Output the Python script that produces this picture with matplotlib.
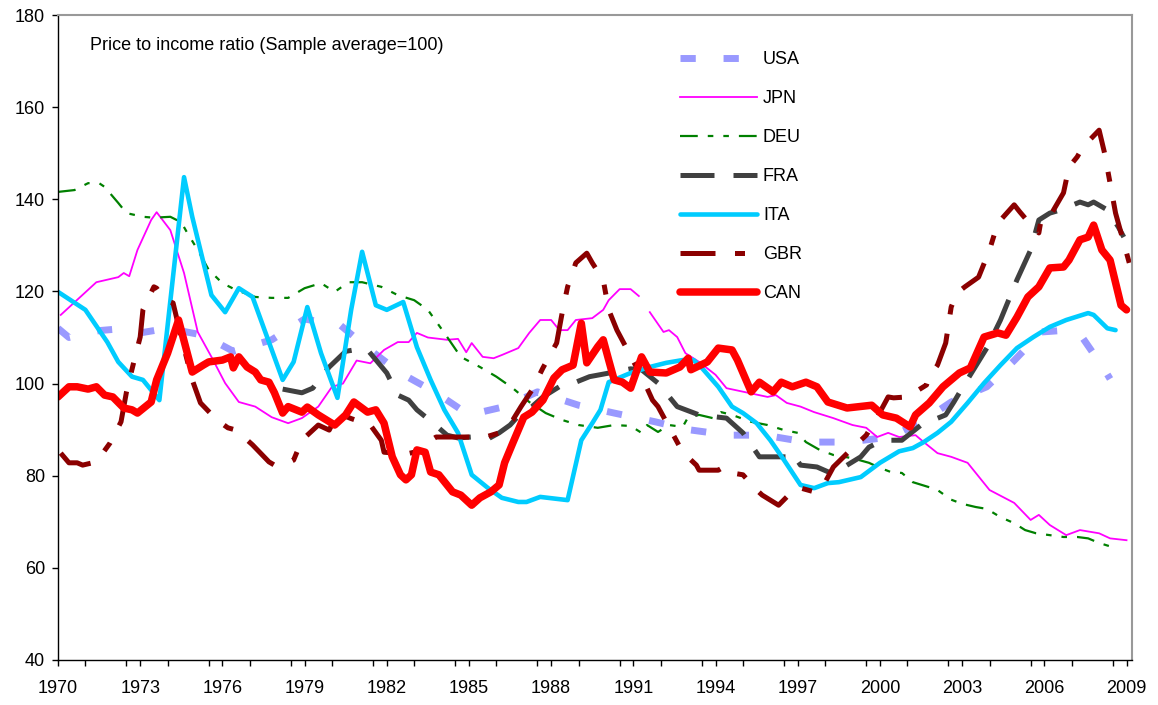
import numpy as np
import matplotlib
matplotlib.use("Agg")
import matplotlib.pyplot as plt
from matplotlib.ticker import MultipleLocator

plt.rcParams['font.family'] = ['Liberation Sans', 'DejaVu Sans']

# price to income ratio, sample average = 100
usa_x = [1970.0, 1970.4, 1971.5, 1972.5, 1973.0, 1974.0, 1975.3, 1976.4, 1977.8, 1979.0,
         1980.3, 1981.3, 1982.5, 1983.8, 1985.0, 1986.3, 1987.5, 1989.0, 1990.3, 1991.8,
         1993.0, 1994.5, 1995.8, 1997.3, 1998.8, 2000.4, 2001.6, 2002.6, 2003.9, 2004.9,
         2005.9, 2006.6, 2007.4, 2008.2, 2008.4]
usa_y = [112, 110, 111.5, 112, 111, 112, 110.5, 107, 109.5, 114,
         112.7, 107.7, 102.3, 98, 93.2, 95, 98.2, 95.3, 93.6, 91.7,
         90, 88.8, 88.8, 87.3, 87.3, 88.4, 92, 96, 99.3, 105,
         111.2, 111.5, 109.9, 103, 101]

jpn_x = [1970.1, 1971.4, 1972.2, 1972.4, 1972.6, 1972.9, 1973.4, 1973.6, 1974.1, 1974.6,
         1975.1, 1975.6, 1976.1, 1976.6, 1977.2, 1977.8, 1978.4, 1978.9, 1979.5, 1980.0,
         1980.4, 1980.9, 1981.4, 1981.9, 1982.4, 1982.8, 1983.1, 1983.5, 1984.2, 1984.6,
         1984.9, 1985.1, 1985.5, 1985.9, 1986.2, 1986.8, 1987.2, 1987.6, 1988.0, 1988.3,
         1988.6, 1988.9, 1989.5, 1989.9, 1990.1, 1990.5, 1990.9, 1991.2, 1991.35, 1991.6,
         1992.1, 1992.3, 1992.6, 1992.9, 1993.4, 1994.0, 1994.4, 1995.9, 1996.2, 1996.6,
         1997.1, 1997.6, 1998.3, 1999.0, 1999.5, 1999.9, 2000.3, 2000.7, 2001.3, 2001.6,
         2002.1, 2002.6, 2003.2, 2004.0, 2004.9, 2005.5, 2005.8, 2006.2, 2006.8, 2007.3,
         2008.0, 2008.4, 2009.0]
jpn_y = [114.9, 122, 123.1, 124, 123.3, 129, 135.5, 137.2, 133.3, 124,
         111.2, 105.8, 100.1, 96, 95, 92.7, 91.4, 92.5, 95, 99.3,
         100, 105, 104.4, 107.3, 109, 109, 111, 110, 109.5, 109.7,
         106.8, 108.8, 105.8, 105.5, 106.2, 107.7, 111, 113.8, 113.8, 111.6,
         111.6, 113.8, 114.2, 116, 118.1, 120.5, 120.5, 119, np.nan, 115.5,
         111.2, 111.6, 110.1, 106.6, 104.7, 101.9, 99, 97.1, 97.5, 95.8,
         95, 93.8, 92.5, 91, 90.4, 88.4, 89.3, 88.4, 88.8, 87.3,
         84.9, 84.1, 82.8, 76.9, 74.1, 70.4, 71.5, 69.3, 67.1, 68.2,
         67.5, 66.4, 66]

deu_x = [1970.0, 1970.6, 1971.1, 1971.5, 1971.7, 1972.2, 1972.5, 1973.1, 1973.5, 1974.1,
         1974.5, 1974.7, 1975.1, 1975.5, 1976.0, 1976.5, 1977.2, 1977.8, 1978.4, 1979.0,
         1979.6, 1980.1, 1980.6, 1981.1, 1981.8, 1982.4, 1983.0, 1983.5, 1984.1, 1984.7,
         1985.4, 1986.0, 1986.6, 1987.2, 1987.8, 1988.4, 1989.0, 1989.7, 1990.3, 1990.9,
         1991.3, 1991.5, 1991.9, 1992.3, 1992.8, 1993.0, 1993.4, 1993.9, 1994.2, 1994.6,
         1995.3, 1995.9, 1996.5, 1997.0, 1997.3, 1997.8, 1998.3, 1999.0, 1999.6, 2000.0,
         2000.4, 2000.8, 2001.2, 2001.8, 2002.1, 2002.6, 2003.0, 2003.5, 2003.9, 2004.4,
         2004.9, 2005.3, 2005.7, 2006.2, 2006.7, 2007.2, 2007.6, 2008.0, 2008.6]
deu_y = [141.6, 142, 143.5, 143.5, 142.7, 139.2, 137, 136.2, 136, 136.2,
         135, 132.9, 129, 124.7, 121.8, 120.3, 118.8, 118.6, 118.6, 120.7,
         121.8, 119.9, 122, 122, 121, 119.2, 118.1, 116, 111, 105.8,
         103.6, 101.5, 99, 96, 93.6, 92.1, 91, 90.4, 91, 90.8,
         89.3, 91, 89.5, 91, 90.6, 92.7, 93.2, 92.5, 93.8, 93.2,
         91.7, 91, 89.9, 89.3, 87.3, 85.6, 84.5, 83.8, 82.8, 81.7,
         80.8, 80.6, 78.6, 77.5, 76.9, 74.8, 73.9, 73.2, 72.8, 71,
         69.7, 68.2, 67.5, 67.1, 66.7, 66.7, 66.4, 65.4, 64.3]

fra_x = [1978.2, 1978.9, 1979.3, 1979.9, 1980.5, 1981.0, 1981.3, 1982.0, 1982.4, 1982.8,
         1983.1, 1983.7, 1984.2, 1984.6, 1985.1, 1985.7, 1986.1, 1986.5, 1986.9, 1987.3,
         1987.7, 1988.4, 1988.9, 1989.4, 1990.4, 1990.9, 1991.3, 1991.9, 1992.6, 1993.4,
         1994.4, 1995.0, 1995.6, 1996.6, 1996.8, 1997.1, 1997.7, 1998.2, 1998.5, 1999.3,
         1999.6, 2000.1, 2000.8, 2001.5, 2002.4, 2002.7, 2002.9, 2003.3, 2003.9, 2004.4,
         2005.0, 2005.5, 2005.8, 2006.2, 2006.6, 2007.3, 2007.6, 2007.8, 2008.3, 2008.7,
         2008.9]
fra_y = [98.8, 98, 99, 103.6, 107, 107.5, 107.3, 102.3, 97.5, 96.4,
         94.3, 91.4, 88.8, 88.2, 88.4, 88, 89.3, 91, 93.6, 95,
         97.1, 99.7, 100.3, 101.5, 102.6, 103.2, 103, 100.1, 95, 93.2,
         92.5, 89.3, 84.1, 84.1, 84.9, 82.3, 81.9, 80.6, 81.2, 84.1,
         86.2, 87.7, 87.7, 91, 93.2, 96, 98, 101.9, 107.7, 113.8,
         122.5, 129, 135.5, 137, 137.7, 139.4, 138.8, 139.4, 137.7, 134,
         131.8]

ita_x = [1970.0, 1971.0, 1971.8, 1972.2, 1972.7, 1973.1, 1973.7, 1974.6, 1974.9, 1975.6,
         1976.1, 1976.6, 1977.1, 1978.2, 1978.6, 1979.1, 1979.6, 1980.2, 1980.7, 1981.1,
         1981.6, 1982.0, 1982.6, 1982.8, 1983.1, 1983.6, 1984.1, 1984.6, 1985.1, 1985.7,
         1986.2, 1986.8, 1987.1, 1987.6, 1988.6, 1989.1, 1989.5, 1989.8, 1990.1, 1990.9,
         1991.6, 1992.2, 1992.8, 1993.2, 1993.5, 1994.1, 1994.6, 1995.0, 1995.5, 1996.0,
         1996.5, 1997.1, 1997.6, 1998.1, 1998.5, 1999.3, 2000.0, 2000.7, 2001.2, 2001.6,
         2002.1, 2002.6, 2003.2, 2003.8, 2004.4, 2005.0, 2005.6, 2006.2, 2006.8, 2007.6,
         2007.8, 2008.3, 2008.6]
ita_y = [119.9, 116, 109, 104.7, 101.5, 100.8, 96.4, 144.8, 136.2, 119.2,
         115.5, 120.7, 118.8, 100.8, 104.7, 116.6, 106.6, 96.9, 116, 128.6,
         117, 116, 117.7, 113.8, 107.9, 100.8, 94.3, 89.3, 80.2, 77.3,
         75.2, 74.3, 74.3, 75.4, 74.7, 87.7, 91.4, 94.3, 100.3, 102.3,
         103.6, 104.5, 105.1, 105.1, 103.4, 99.3, 95, 93.6, 91.4, 87.7,
         83.4, 78, 77.3, 78.4, 78.6, 79.7, 82.8, 85.3, 86, 87.3,
         89.3, 91.7, 95.8, 100.1, 104, 107.7, 110.1, 112.3, 113.8, 115.3,
         114.9, 112, 111.6]

gbr_x = [1970.1, 1970.4, 1970.7, 1970.9, 1971.4, 1971.9, 1972.3, 1972.5, 1972.8, 1973.0,
         1973.1, 1973.5, 1973.6, 1973.9, 1974.2, 1974.5, 1974.9, 1975.2, 1975.8, 1976.2,
         1976.5, 1977.1, 1977.7, 1977.9, 1978.4, 1978.6, 1978.9, 1979.5, 1979.9, 1980.2,
         1980.7, 1981.4, 1981.8, 1981.9, 1982.7, 1983.0, 1983.5, 1983.8, 1984.4, 1985.0,
         1985.5, 1986.1, 1986.6, 1986.9, 1987.3, 1987.7, 1988.2, 1988.4, 1988.6, 1988.9,
         1989.3, 1989.5, 1989.9, 1990.1, 1990.4, 1990.9, 1991.4, 1991.7, 1991.9, 1992.3,
         1992.8, 1993.3, 1993.4, 1994.1, 1994.3, 1994.6, 1995.0, 1995.5, 1995.7, 1996.3,
         1996.6, 1997.0, 1997.6, 1997.9, 1998.3, 1999.0, 1999.5, 1999.9, 2000.3, 2000.5,
         2001.0, 2001.7, 2001.8, 2002.1, 2002.4, 2002.6, 2002.8, 2003.1, 2003.6, 2004.0,
         2004.3, 2004.9, 2005.1, 2005.6, 2005.8, 2005.9, 2006.3, 2006.7, 2006.9, 2007.2,
         2007.4, 2008.0, 2008.2, 2008.4, 2008.6, 2008.8, 2009.1]
gbr_y = [84.9, 82.8, 82.8, 82.3, 83, 87.1, 91.7, 98.2, 105.5, 110.1,
         116, 121, 120.7, 118.1, 117.5, 110, 100.8, 95.8, 92.1, 90.4,
         89.9, 86.7, 83, 82.3, 82.8, 83.4, 87.7, 91, 89.9, 93.6,
         92.4, 91, 87.7, 85.1, 84.7, 85.1, 87.3, 88.4, 88.4, 88.4,
         88.2, 89.3, 92.1, 95, 98.6, 103.4, 108.8, 115.3, 121, 126.2,
         128.3, 126.2, 122.5, 116, 111.6, 106, 100.3, 96.4, 95, 90.6,
         85.1, 82.3, 81.2, 81.2, 81.9, 80.6, 80.2, 76.9, 75.8, 73.6,
         75.4, 77.5, 76.5, 77.5, 81.9, 86, 88.8, 92.7, 97.1, 96.9,
         97.1, 99.7, 101.5, 104, 108.8, 116.6, 119.6, 121, 123.1, 129,
         134.8, 138.8, 137.3, 133.8, 132.7, 136.2, 137.3, 141.4, 147, 149.2,
         151.3, 155, 150, 143.5, 137, 132.7, 126.2]

can_x = [1970.0, 1970.4, 1970.7, 1971.1, 1971.4, 1971.7, 1972.0, 1972.4, 1972.7, 1972.9,
         1973.4, 1973.6, 1974.0, 1974.4, 1974.9, 1975.3, 1975.5, 1976.0, 1976.3, 1976.4,
         1976.6, 1976.9, 1977.2, 1977.4, 1977.7, 1977.9, 1978.2, 1978.4, 1978.9, 1979.1,
         1979.5, 1980.1, 1980.5, 1980.8, 1981.3, 1981.6, 1981.9, 1982.2, 1982.5, 1982.7,
         1982.9, 1983.1, 1983.4, 1983.6, 1983.9, 1984.4, 1984.7, 1985.1, 1985.4, 1985.8,
         1986.1, 1986.3, 1986.6, 1987.0, 1987.3, 1987.7, 1988.1, 1988.4, 1988.8, 1989.1,
         1989.3, 1989.7, 1989.9, 1990.1, 1990.3, 1990.6, 1990.9, 1991.3, 1991.6, 1992.2,
         1992.7, 1993.0, 1993.1, 1993.7, 1994.1, 1994.6, 1994.8, 1995.3, 1995.6, 1996.1,
         1996.4, 1996.8, 1997.3, 1997.7, 1998.1, 1998.8, 1999.7, 2000.1, 2000.6, 2001.1,
         2001.3, 2001.8, 2002.3, 2002.9, 2003.3, 2003.8, 2004.3, 2004.6, 2005.0, 2005.4,
         2005.8, 2006.2, 2006.7, 2006.9, 2007.3, 2007.6, 2007.8, 2008.1, 2008.4, 2008.8,
         2009.0]
can_y = [97.1, 99.3, 99.3, 98.8, 99.3, 97.5, 97.1, 94.7, 94.3, 93.6,
         96, 100.8, 106.6, 113.8, 102.5, 104, 104.7, 105.1, 105.8, 103.4,
         105.8, 103.6, 102.5, 100.8, 100.3, 98, 93.6, 95, 93.8, 94.9,
         93.2, 91, 93.2, 96, 93.8, 94.3, 91.4, 84.1, 80.2, 79.1,
         80.2, 85.6, 85.1, 80.8, 80.2, 76.5, 75.8, 73.6, 75.2, 76.5,
         78, 82.8, 87.1, 92.7, 93.8, 96.4, 101.2, 103, 104, 113.1,
         104.5, 108, 109.5, 105.1, 100.8, 100.3, 99, 105.8, 102.5, 102.3,
         103.6, 105.5, 103, 104.7, 107.7, 107.3, 105.1, 98.2, 100.3, 98.2,
         100.3, 99.3, 100.3, 99.3, 96, 94.7, 95.3, 93.2, 92.5, 90.6,
         93.2, 95.8, 99.3, 102.3, 103.4, 110.1, 111, 110.5, 114.4, 118.8,
         121, 125.1, 125.3, 126.8, 131.2, 131.8, 134.4, 129, 126.8, 117,
         116]

fig = plt.figure(figsize=(11.58, 7.05), dpi=100)
ax = fig.add_axes([58 / 1158, 45 / 705, 1074 / 1158, 645 / 705])

# series in the original order, last one on top
ax.plot(usa_x, usa_y, color='#9999FF', lw=5, dashes=(2.2, 4), label='USA')
ax.plot(jpn_x, jpn_y, color='#FF00FF', lw=1.3, label='JPN')
ax.plot(deu_x, deu_y, color='#008000', lw=1.6, dashes=(8, 4.5, 2.5, 4.5, 2.5, 4.5), label='DEU')
ax.plot(fra_x, fra_y, color='#404040', lw=3.6, dashes=(6.8, 3.8), label='FRA')
ax.plot(ita_x, ita_y, color='#00CCFF', lw=3.3, solid_capstyle='round', solid_joinstyle='round', label='ITA')
ax.plot(gbr_x, gbr_y, color='#8B0000', lw=3.6, dashes=(7, 3.9, 2, 3.9), label='GBR')
ax.plot(can_x, can_y, color='#FF0000', lw=5.4, solid_capstyle='round', solid_joinstyle='round', label='CAN')

ax.set_xlim(1970, 2009.2)
ax.set_ylim(40, 180)
ax.set_xticks(np.arange(1970, 2010, 3))
ax.xaxis.set_minor_locator(MultipleLocator(1.5))
ax.set_yticks(np.arange(40, 181, 20))
ax.tick_params(axis='both', which='both', direction='out', length=4.3, width=1, labelsize=13)
ax.tick_params(axis='x', pad=10)
ax.tick_params(axis='y', pad=5)
ax.tick_params(axis='x', which='minor', length=4.3)

for side in ['top', 'right']:
    ax.spines[side].set_color('#999999')
    ax.spines[side].set_linewidth(1.5)
for side in ['left', 'bottom']:
    ax.spines[side].set_color('black')
    ax.spines[side].set_linewidth(1)

ax.text(0.03, 0.953, 'Price to income ratio (Sample average=100)', transform=ax.transAxes,
        fontsize=13, va='center', ha='left')

ax.legend(loc='upper left', bbox_to_anchor=(0.579, 0.944), frameon=False, fontsize=13,
          handlelength=4.3, handletextpad=0.3, labelspacing=1.22, borderpad=0, borderaxespad=0)

fig.savefig('out.png', dpi=100)
